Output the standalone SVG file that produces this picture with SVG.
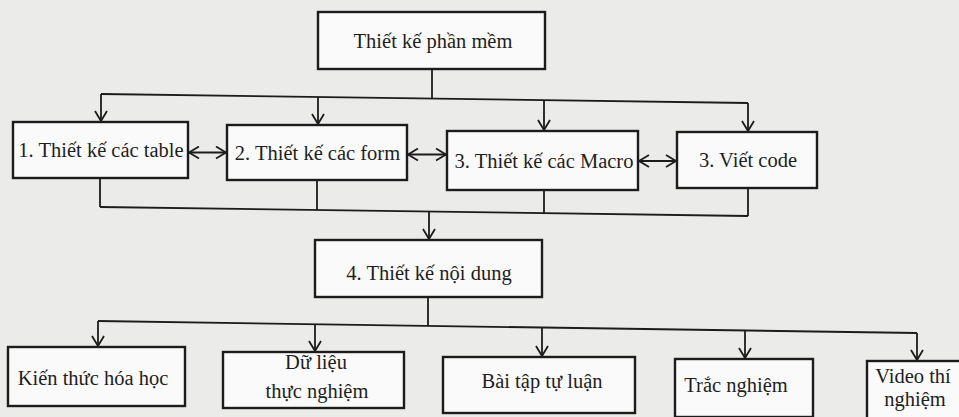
<svg xmlns="http://www.w3.org/2000/svg" width="959" height="417" viewBox="0 0 959 417">
<style>
.box{fill:#fafafa;stroke:#1c1c1c;stroke-width:2.4}
.t{font-family:"Liberation Serif","Times New Roman",serif;font-size:20.5px;fill:#1e1e1e;text-anchor:middle}
.c{fill:none;stroke:#1c1c1c;stroke-width:1.8}
.a{marker-end:url(#arr)}
.d{marker-start:url(#arr);marker-end:url(#arr)}
</style>
<defs>
<marker id="arr" markerUnits="userSpaceOnUse" markerWidth="14" markerHeight="14" viewBox="-11 -7 13 14" refX="0" refY="0" orient="auto-start-reverse">
<path d="M-10,-6 L0,0 L-10,6" fill="none" stroke="#1c1c1c" stroke-width="1.8"/>
</marker>
</defs>
<rect width="959" height="417" fill="#ebebe9"/>
<g id="connectors">
<path class="c" d="M432,69 V98.6"/>
<path class="c" d="M101,94 L748,103"/>
<path class="c a" d="M101,94 V121"/>
<path class="c a" d="M318,97 V124"/>
<path class="c a" d="M544,100.2 V130"/>
<path class="c a" d="M748,103 V131"/>
<path class="c d" d="M189,152.5 H226"/>
<path class="c d" d="M408,154.5 H446"/>
<path class="c d" d="M639,161 H676"/>
<path class="c" d="M100,178 V207"/>
<path class="c" d="M317,180 V210"/>
<path class="c" d="M544,190 V213.2"/>
<path class="c" d="M748,188 V216"/>
<path class="c" d="M100,207 L748,216"/>
<path class="c a" d="M429,211.6 V239"/>
<path class="c" d="M428,297 V325.8"/>
<path class="c" d="M98,321 L917,333"/>
<path class="c a" d="M98,321 V346"/>
<path class="c a" d="M315,324.2 V351"/>
<path class="c a" d="M542,327.5 V356"/>
<path class="c a" d="M745,330.5 V358"/>
<path class="c a" d="M917,333 V360"/>
</g>
<g id="n-top"><rect class="box" x="318" y="12" width="227" height="57"/><text class="t" x="433" y="48">Thiết kế phần mềm</text></g>
<g id="n-table"><rect class="box" x="13" y="122" width="175" height="56"/><text class="t" x="101" y="157">1. Thiết kế các table</text></g>
<g id="n-form"><rect class="box" x="227" y="125" width="180" height="55"/><text class="t" x="317.5" y="160">2. Thiết kế các form</text></g>
<g id="n-macro"><rect class="box" x="447" y="131" width="191" height="59"/><text class="t" x="544" y="168">3. Thiết kế các Macro</text></g>
<g id="n-code"><rect class="box" x="677" y="132" width="140" height="56"/><text class="t" x="748" y="167">3. Viết code</text></g>
<g id="n-noidung"><rect class="box" x="315" y="240" width="227" height="57"/><text class="t" x="429" y="280">4. Thiết kế nội dung</text></g>
<g id="n-kienthuc"><rect class="box" x="8" y="347" width="177" height="59"/><text class="t" x="93" y="385">Kiến thức hóa học</text></g>
<g id="n-dulieu"><rect class="box" x="223" y="352" width="181" height="56"/><text class="t" x="316" y="369">Dữ liệu</text><text class="t" x="317" y="398">thực nghiệm</text></g>
<g id="n-baitap"><rect class="box" x="443" y="357" width="192" height="56"/><text class="t" x="542" y="388">Bài tập tự luận</text></g>
<g id="n-tracnghiem"><rect class="box" x="675" y="359" width="138" height="58"/><text class="t" x="736" y="392">Trắc nghiệm</text></g>
<g id="n-video"><rect class="box" x="867" y="361" width="100" height="60"/><text class="t" x="913" y="383">Video thí</text><text class="t" x="915" y="406">nghiệm</text></g>
</svg>
